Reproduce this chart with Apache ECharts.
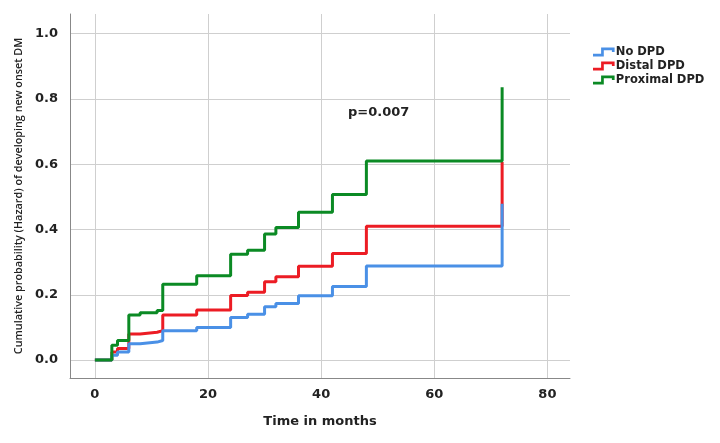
<!DOCTYPE html>
<html>
<head>
<meta charset="utf-8">
<script src="https://cdn.jsdelivr.net/npm/echarts@6/dist/echarts.min.js"></script>
<style>html,body{margin:0;padding:0;background:#fff}#c{width:720px;height:443px}</style>
</head>
<body>
<div id="c"></div>
<script>
const seriesNames = ['No DPD', 'Distal DPD', 'Proximal DPD'];
const noDpdTime = [0, 3, 4, 6, 8, 11, 12, 18, 24, 27, 30, 32, 36, 42, 48, 72];
const noDpdHazard = [0, 0.015, 0.025, 0.05, 0.055, 0.06, 0.09, 0.10, 0.13, 0.14, 0.163, 0.173, 0.197, 0.225, 0.288, 0.479];
const distalTime = [0, 3, 4, 6, 8, 11, 12, 18, 24, 27, 30, 32, 36, 42, 48, 72];
const distalHazard = [0, 0.025, 0.035, 0.08, 0.085, 0.09, 0.138, 0.153, 0.198, 0.208, 0.24, 0.255, 0.287, 0.326, 0.41, 0.607];
const proximalTime = [0, 3, 4, 6, 8, 11, 12, 18, 24, 27, 30, 32, 36, 42, 48, 72];
const proximalHazard = [0, 0.045, 0.06, 0.138, 0.145, 0.152, 0.232, 0.258, 0.324, 0.336, 0.386, 0.406, 0.453, 0.507, 0.61, 0.836];
const xTicks = [0, 20, 40, 60, 80];
const yTicks = [0, 0.2, 0.4, 0.6, 0.8, 1.0];
const pText = 'p=0.007';

const colors = ['#4a90e6', '#ec1c24', '#0b8a24'];
const zOrder = [3, 2, 4];
const pairs = (xs, ys) => xs.map((x, i) => [x, ys[i]]);
const dataSets = [pairs(noDpdTime, noDpdHazard), pairs(distalTime, distalHazard), pairs(proximalTime, proximalHazard)];
const stepIcon = 'path://M0,7 L9,7 L9,0 L24,0 L24,5 L21,5 L21,3 L12,3 L12,10 L0,10 Z';

const chart = echarts.init(document.getElementById('c'), null, {renderer: 'canvas'});
chart.setOption({
  animation: false,
  backgroundColor: '#ffffff',
  grid: {left: 70, right: 150, top: 14, bottom: 65},
  legend: {
    orient: 'vertical', left: 588, top: 40, itemGap: 0, itemWidth: 24, itemHeight: 9,
    textStyle: {fontFamily: 'DejaVu Sans', fontWeight: 'bold', fontSize: 11.5, color: '#222', padding: [0,0,0,-5], lineHeight: 14},
    data: seriesNames.map((n, i) => ({name: n, icon: stepIcon, itemStyle: {color: colors[i]}}))
  },
  xAxis: {
    type: 'value', min: -4.4, max: 84,
    name: 'Time in months', nameLocation: 'middle', nameGap: 37,
    nameTextStyle: {fontFamily: 'DejaVu Sans', fontWeight: 'bold', fontSize: 13, color: '#222'},
    axisLine: {show: true, onZero: false, lineStyle: {color: '#888', width: 1}},
    axisTick: {show: false, customValues: xTicks},
    axisLabel: {customValues: xTicks, margin: 10, fontFamily: 'DejaVu Sans', fontWeight: 'bold', fontSize: 13, color: '#222'},
    splitLine: {show: true, lineStyle: {color: '#cfcfcf', width: 1}}
  },
  yAxis: {
    type: 'value', min: -0.055, max: 1.06,
    name: 'Cumulative probability (Hazard) of developing new onset DM', nameLocation: 'middle', nameGap: 37,
    nameTextStyle: {fontFamily: 'Open Sans', fontWeight: 600, fontSize: 10.8, color: '#222'},
    axisLine: {show: true, onZero: false, lineStyle: {color: '#888', width: 1}},
    axisTick: {show: false, customValues: yTicks},
    axisLabel: {customValues: yTicks, margin: 12, formatter: v => v.toFixed(1), fontFamily: 'DejaVu Sans', fontWeight: 'bold', fontSize: 13, color: '#222'},
    splitLine: {show: true, lineStyle: {color: '#cfcfcf', width: 1}}
  },
  graphic: [{type: 'text', left: 348, top: 106, style: {text: pText, font: 'bold 13px DejaVu Sans', fill: '#222'}}],
  series: seriesNames.map((n, i) => ({
    name: n, type: 'line', step: 'end', data: dataSets[i], showSymbol: false, symbol: 'none', z: zOrder[i],
    lineStyle: {color: colors[i], width: 3}, itemStyle: {color: colors[i]}
  }))
});
</script>
</body>
</html>
